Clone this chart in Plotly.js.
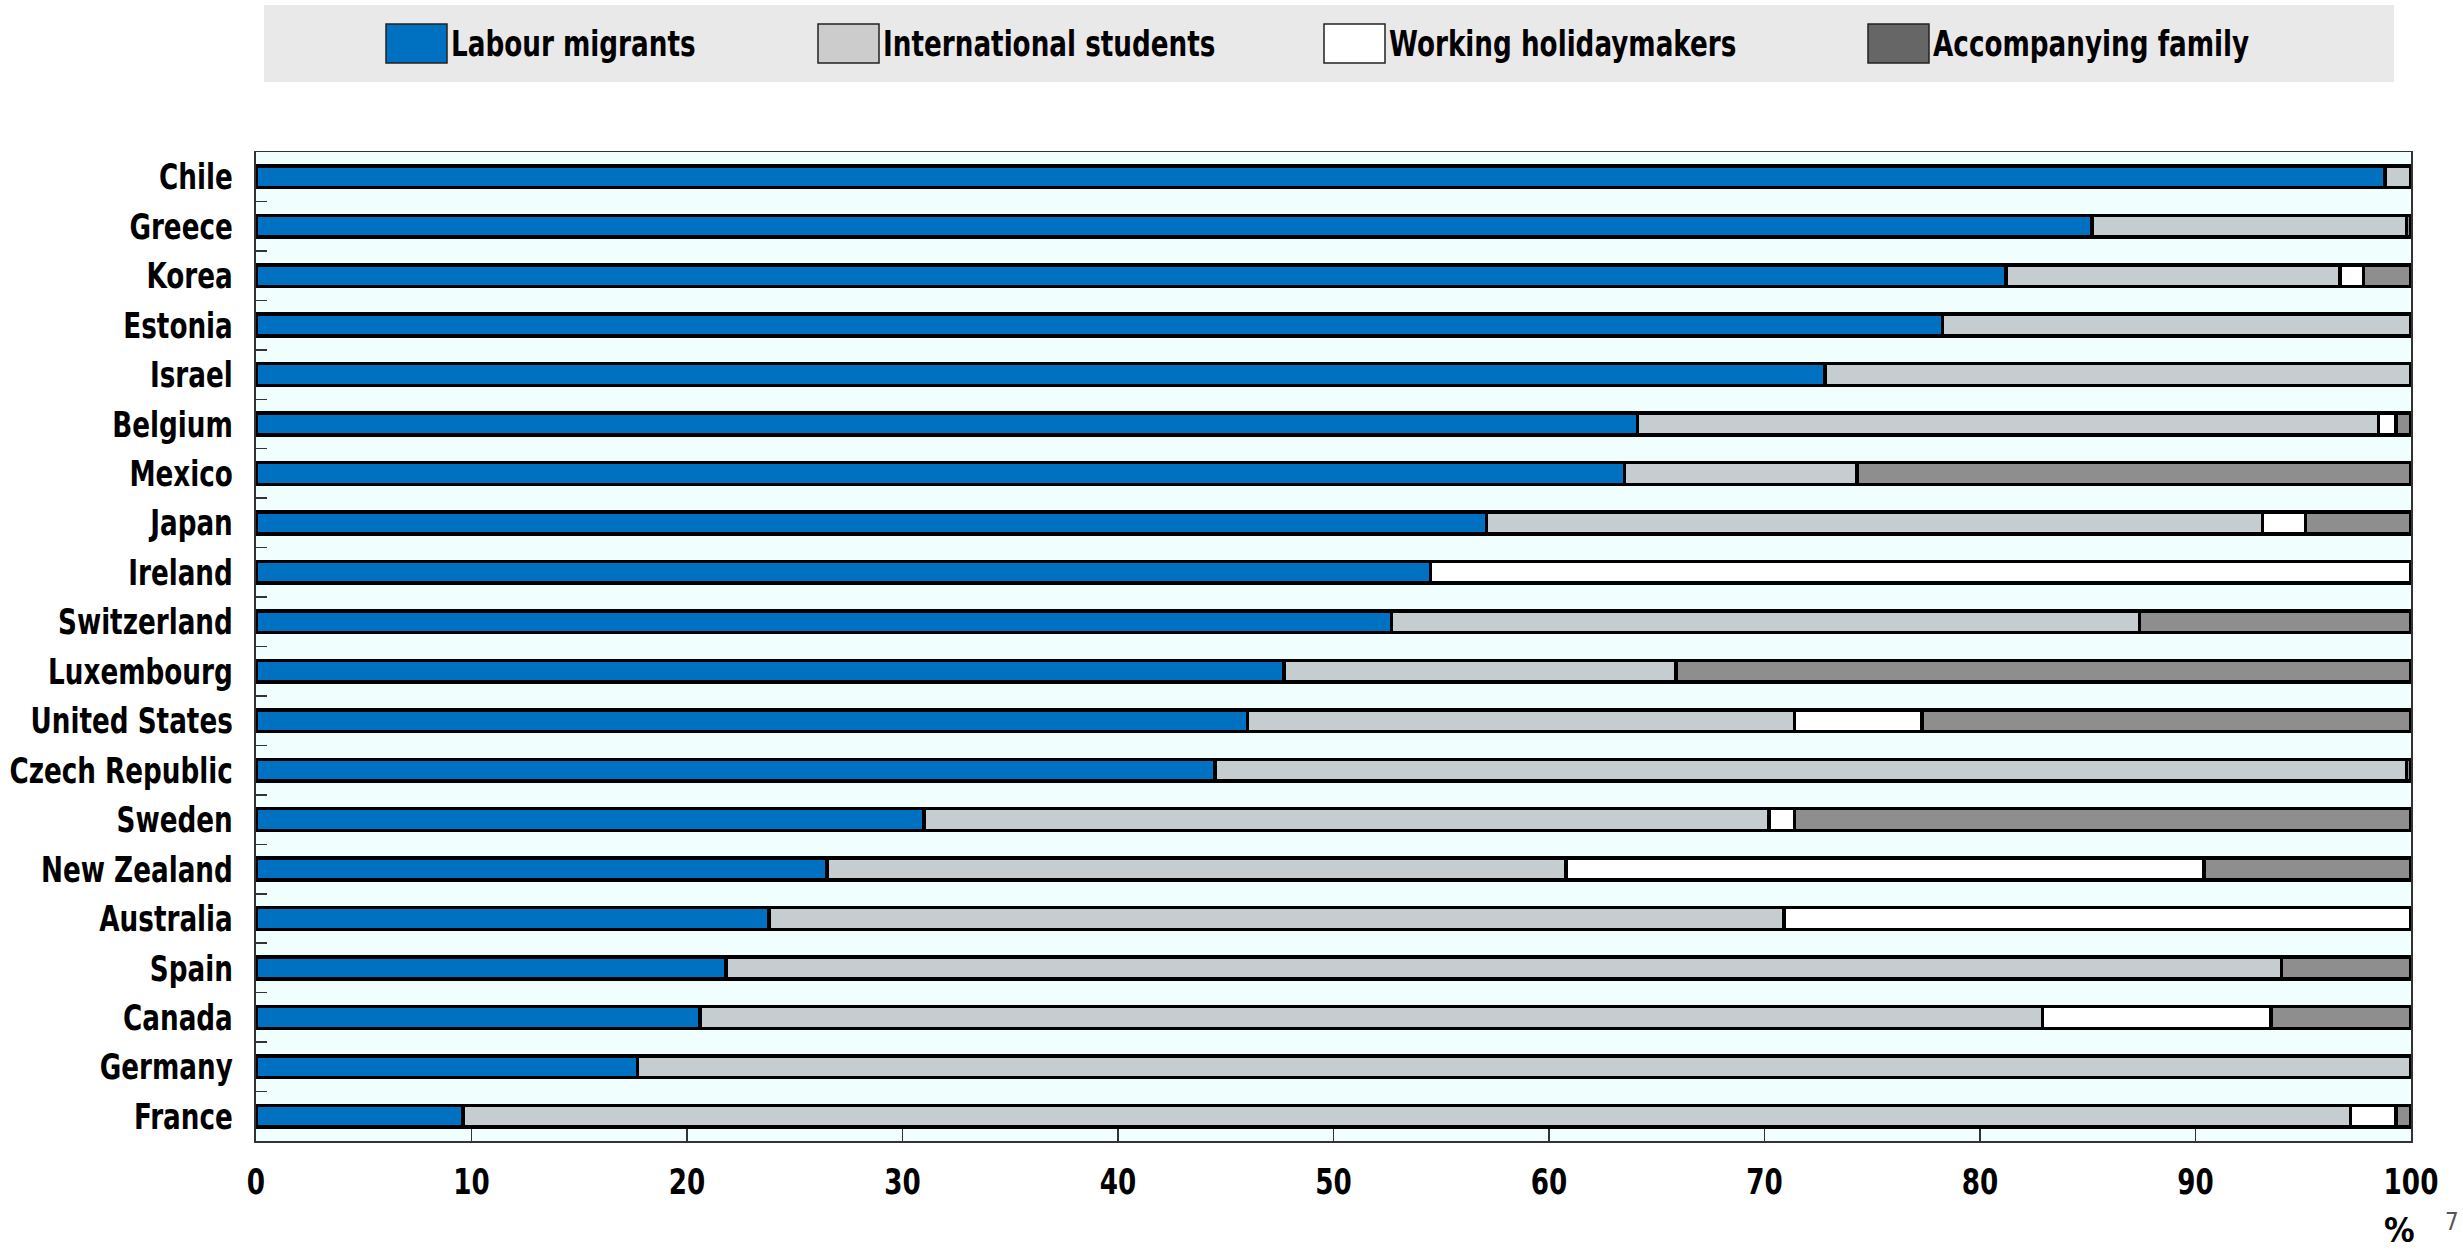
<!DOCTYPE html>
<html>
<head>
<meta charset="utf-8">
<script src="https://cdn.plot.ly/plotly-3.0.1.min.js"></script>
<style>html,body{margin:0;padding:0;background:#fff;}#chart{width:2463px;height:1253px;}</style>
</head>
<body>
<div id="chart"></div>
<script>
// ---- data ----
const countries = ["Chile","Greece","Korea","Estonia","Israel","Belgium","Mexico","Japan","Ireland","Switzerland","Luxembourg","United States","Czech Republic","Sweden","New Zealand","Australia","Spain","Canada","Germany","France"];
const labourMigrants = [98.8,85.2,81.2,78.25,72.8,64.1,63.5,57.1,54.5,52.7,47.7,46.0,44.5,31.0,26.5,23.8,21.8,20.6,17.7,9.6];
const internationalStudents = [1.2,14.6,15.5,21.75,27.2,34.4,10.8,36.0,null,34.7,18.2,25.4,55.3,39.2,34.3,47.1,72.2,62.3,82.3,87.6];
const workingHolidaymakers = [null,null,1.1,null,null,0.8,null,2.0,45.5,null,null,5.9,null,1.2,29.6,29.1,null,10.6,null,2.1];
const accompanyingFamily = [null,0.2,2.2,null,null,0.7,25.7,4.9,null,12.6,34.1,22.7,0.2,28.6,9.6,null,6.0,6.5,null,0.7];
const seriesNames = ["Labour migrants","International students","Working holidaymakers","Accompanying family"];
const xTickValues = [0,10,20,30,40,50,60,70,80,90,100];
const unitLabel = "%";
const noteLabel = "7";

// ---- styles ----
const FONT = "Liberation Sans Narrow, Arial Narrow, DejaVu Sans Condensed, sans-serif";
const NARROW = 0.81; // horizontal condensing to mimic a narrow face
const barColors = ["#0070C0","#C6CDD0","#FFFFFF","#8E8E8E"];
const swatchColors = ["#0070C0","#CCCCCC","#FFFFFF","#666666"];
const seriesValues = [labourMigrants, internationalStudents, workingHolidaymakers, accompanyingFamily];

const W = 2463, H = 1253;
const L = 256, R = 2411, T = 152, B = 1141;
const px = v => (v - L) / (R - L);
const py = v => (B - v) / (B - T);

const traces = seriesValues.map((vals, i) => ({
  type: "bar",
  orientation: "h",
  name: seriesNames[i],
  y: countries,
  x: vals,
  marker: {color: barColors[i], line: {color: "#000000", width: 3.5}},
  hoverinfo: "x+y+name"
}));

// manual legend
const legendSwatchX = [386, 818, 1324, 1868];
const shapes = [{
  type: "rect", xref: "paper", yref: "paper", layer: "below",
  x0: px(264), x1: px(2394), y0: py(82), y1: py(5),
  fillcolor: "#E9E9E9", line: {width: 0}
}];
const annotations = [];
seriesNames.forEach((name, i) => {
  const x0 = legendSwatchX[i];
  shapes.push({
    type: "rect", xref: "paper", yref: "paper",
    x0: px(x0), x1: px(x0 + 61), y0: py(63), y1: py(24),
    fillcolor: swatchColors[i], line: {color: "#222222", width: 1.5}
  });
  annotations.push({
    xref: "paper", yref: "paper", x: px(x0 + 63), y: py(43),
    xanchor: "left", yanchor: "middle", showarrow: false,
    text: name, font: {family: FONT, size: 36, color: "#000", weight: "bold"},
    name: "legendtext"
  });
});
annotations.push({
  xref: "paper", yref: "paper", x: px(2399), y: py(1230),
  xanchor: "center", yanchor: "middle", showarrow: false,
  text: unitLabel, font: {family: FONT, size: 34, color: "#000", weight: "bold"}
});
annotations.push({
  xref: "paper", yref: "paper", x: px(2452), y: py(1222),
  xanchor: "center", yanchor: "middle", showarrow: false,
  text: noteLabel, font: {family: FONT, size: 24, color: "#555"}
});

const layout = {
  width: W, height: H,
  margin: {l: L, r: W - R, t: T, b: H - B, pad: 0},
  paper_bgcolor: "#FFFFFF",
  plot_bgcolor: "#F0FEFE",
  barmode: "stack",
  bargap: 0.56,
  showlegend: false,
  font: {family: FONT, size: 36, color: "#000"},
  xaxis: {
    range: [0, 100], tickmode: "array", tickvals: xTickValues,
    ticks: "inside", ticklen: 12, tickcolor: "#333", tickwidth: 1.5,
    showline: true, linecolor: "#333", linewidth: 1.5, mirror: true,
    showgrid: false, zeroline: false, ticklabelstandoff: 8,
    tickfont: {family: FONT, size: 36, color: "#000", weight: "bold"}
  },
  yaxis: {
    type: "category", autorange: "reversed",
    ticks: "inside", tickson: "boundaries", ticklen: 11, tickcolor: "#333", tickwidth: 1.5,
    showline: true, linecolor: "#333", linewidth: 2, mirror: true,
    showgrid: false, zeroline: false, ticklabelstandoff: 14,
    tickfont: {family: FONT, size: 36, color: "#000", weight: "bold"}
  },
  shapes: shapes,
  annotations: annotations
};

function condense(gd) {
  gd.querySelectorAll(".ytick text, .xtick text").forEach(t => {
    const w = t.getComputedTextLength();
    t.setAttribute("lengthAdjust", "spacingAndGlyphs");
    t.setAttribute("textLength", (w * NARROW).toFixed(1));
  });
  const ann = gd.querySelectorAll(".annotation");
  ann.forEach((g, i) => {
    if (i >= seriesNames.length) return;
    const t = g.querySelector("text");
    if (!t) return;
    const w = t.getComputedTextLength();
    const w2 = w * NARROW;
    t.setAttribute("lengthAdjust", "spacingAndGlyphs");
    t.setAttribute("textLength", w2.toFixed(1));
    const x = parseFloat(t.getAttribute("x") || "0");
    t.setAttribute("x", (x - (w - w2) / 2).toFixed(1));
  });
}

Plotly.newPlot("chart", traces, layout, {staticPlot: true, displayModeBar: false}).then(condense);
</script>
</body>
</html>
